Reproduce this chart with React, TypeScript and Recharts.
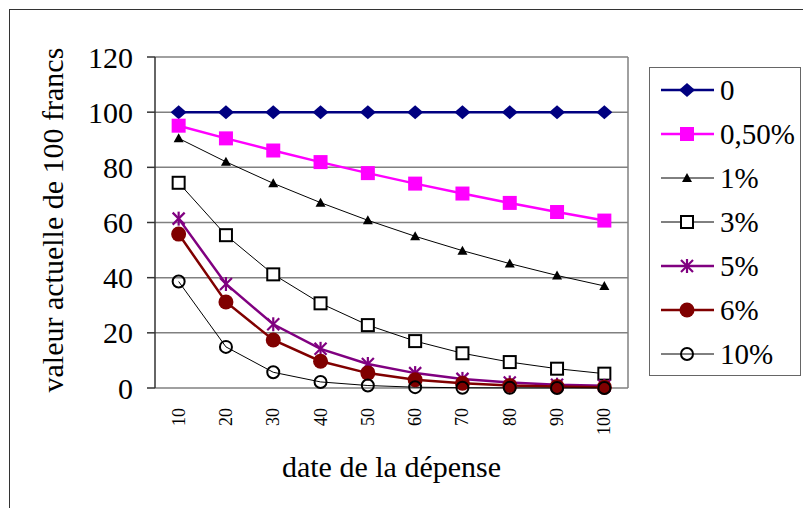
import { LineChart, Line, XAxis, YAxis, CartesianGrid, Legend, ReferenceLine } from "recharts";

// dates of expenditure (years)
const dates = [10, 20, 30, 40, 50, 60, 70, 80, 90, 100];
const yTicks = [0, 20, 40, 60, 80, 100, 120];
const gridTicks = [5, 15, 25, 35, 45, 55, 65, 75, 85, 95, 105];

// present value of 100 francs, by discount rate
const rate0 = [100, 100, 100, 100, 100, 100, 100, 100, 100, 100];
const rate05 = [95.1, 90.5, 86.1, 81.9, 77.9, 74.1, 70.5, 67.1, 63.8, 60.7];
const rate1 = [90.5, 82.0, 74.2, 67.2, 60.8, 55.0, 49.8, 45.1, 40.8, 37.0];
const rate3 = [74.4, 55.4, 41.2, 30.7, 22.8, 17.0, 12.6, 9.4, 7.0, 5.2];
const rate5 = [61.4, 37.7, 23.1, 14.2, 8.7, 5.4, 3.3, 2.0, 1.2, 0.8];
const rate6 = [55.8, 31.2, 17.4, 9.7, 5.4, 3.0, 1.7, 0.9, 0.5, 0.3];
const rate10 = [38.6, 14.9, 5.7, 2.2, 0.9, 0.3, 0.1, 0.05, 0.02, 0.01];

type Shape = "diamond" | "square" | "triangle" | "openSquare" | "star" | "circle" | "openCircle";

const series: { key: string; name: string; values: number[]; color: string; width: number; shape: Shape }[] = [
  { key: "r0", name: "0", values: rate0, color: "#000080", width: 2.5, shape: "diamond" },
  { key: "r05", name: "0,50%", values: rate05, color: "#FF00FF", width: 2.5, shape: "square" },
  { key: "r1", name: "1%", values: rate1, color: "#000000", width: 1, shape: "triangle" },
  { key: "r3", name: "3%", values: rate3, color: "#000000", width: 1, shape: "openSquare" },
  { key: "r5", name: "5%", values: rate5, color: "#800080", width: 2.5, shape: "star" },
  { key: "r6", name: "6%", values: rate6, color: "#800000", width: 2.5, shape: "circle" },
  { key: "r10", name: "10%", values: rate10, color: "#000000", width: 1, shape: "openCircle" },
];

const data = dates.map((t, i) => {
  const row: Record<string, number> = { t };
  series.forEach((s) => (row[s.key] = s.values[i]));
  return row;
});

const FONT = "Liberation Serif, Times New Roman, serif";

function Marker({ shape, cx, cy, color }: { shape: Shape; cx: number; cy: number; color: string }) {
  switch (shape) {
    case "diamond":
      return <polygon points={`${cx},${cy - 7} ${cx + 8},${cy} ${cx},${cy + 7} ${cx - 8},${cy}`} fill={color} />;
    case "square":
      return <rect x={cx - 7} y={cy - 7} width={14} height={14} fill={color} />;
    case "triangle":
      return <polygon points={`${cx},${cy - 5} ${cx + 5},${cy + 4} ${cx - 5},${cy + 4}`} fill={color} />;
    case "openSquare":
      return <rect x={cx - 6} y={cy - 6} width={12} height={12} fill="#fff" stroke={color} strokeWidth={2} />;
    case "star":
      return (
        <g stroke={color} strokeWidth={2.2}>
          <line x1={cx} y1={cy - 7} x2={cx} y2={cy + 7} />
          <line x1={cx - 6} y1={cy - 6} x2={cx + 6} y2={cy + 6} />
          <line x1={cx - 6} y1={cy + 6} x2={cx + 6} y2={cy - 6} />
        </g>
      );
    case "circle":
      return <circle cx={cx} cy={cy} r={7.5} fill={color} />;
    case "openCircle":
      return <circle cx={cx} cy={cy} r={6} fill="none" stroke={color} strokeWidth={2} />;
  }
}

function XTick({ x, y, payload }: any) {
  return (
    <text
      transform={`translate(${x + 6},${y + 12}) rotate(-90)`}
      textAnchor="end"
      fontSize={18}
      style={{ fontFamily: FONT }}
      fill="#000"
    >
      {payload.value}
    </text>
  );
}

function LegendBox() {
  return (
    <div style={{ border: "1.5px solid #666", background: "#fff", width: 152, height: 309, boxSizing: "border-box" }}>
      {series.map((s) => (
        <svg key={s.key} width={150} height={44} style={{ display: "block" }}>
          <line x1={11} y1={22} x2={64} y2={22} stroke={s.color} strokeWidth={s.width} />
          <Marker shape={s.shape} cx={37} cy={22} color={s.color} />
          <text x={70} y={32} fontSize={29} style={{ fontFamily: FONT }} fill="#000">
            {s.name}
          </text>
        </svg>
      ))}
    </div>
  );
}

export default function App() {
  return (
    <div
      style={{
        position: "absolute",
        left: 0,
        top: 0,
        width: 803,
        height: 508,
        background: "#fff",
        overflow: "hidden",
        fontFamily: FONT,
      }}
    >
      <div
        style={{
          position: "absolute",
          left: 9,
          top: 9,
          width: 820,
          height: 520,
          borderLeft: "1.5px solid #333",
          borderTop: "1.5px solid #333",
        }}
      />
      <LineChart
        width={803}
        height={508}
        data={data}
        margin={{ top: 57, right: 175, bottom: 0, left: 0 }}
        style={{ fontFamily: FONT }}
      >
        <CartesianGrid horizontal vertical={false} stroke="#808080" strokeWidth={1.5} />
        <XAxis
          xAxisId="grid"
          dataKey="t"
          type="number"
          domain={[5, 105]}
          ticks={gridTicks}
          tickFormatter={() => ""}
          height={0}
          tickSize={7}
          stroke="#333"
          strokeWidth={1.5}
        />
        <XAxis
          dataKey="t"
          type="number"
          domain={[5, 105]}
          ticks={dates}
          axisLine={false}
          tickLine={false}
          tick={<XTick />}
          height={120}
          label={{ value: "date de la dépense", position: "insideBottom", offset: 31, fontSize: 30, fill: "#000", style: { fontFamily: FONT } }}
        />
        <YAxis
          domain={[0, 120]}
          ticks={yTicks}
          width={155}
          tickSize={8}
          tickMargin={14}
          stroke="#333"
          strokeWidth={1.5}
          tick={{ fontSize: 30, fill: "#000", style: { fontFamily: FONT } }}
          label={{
            value: "valeur actuelle de 100 francs",
            angle: -90,
            position: "insideLeft",
            offset: 52,
            dy: 170,
            fontSize: 30,
            fill: "#000",
            style: { fontFamily: FONT },
          }}
        />
        <ReferenceLine x={105} stroke="#808080" strokeWidth={1.5} />
        {series.map((s) => (
          <Line
            key={s.key}
            dataKey={s.key}
            name={s.name}
            stroke={s.color}
            strokeWidth={s.width}
            isAnimationActive={false}
            dot={(p: any) => <Marker key={`${s.key}-${p.index}`} shape={s.shape} cx={p.cx} cy={p.cy} color={s.color} />}
            activeDot={false}
          />
        ))}
        <Legend
          layout="vertical"
          align="center"
          verticalAlign="middle"
          content={() => <LegendBox />}
          wrapperStyle={{ left: 649, top: 67, width: 152, height: 309 }}
        />
      </LineChart>
    </div>
  );
}
